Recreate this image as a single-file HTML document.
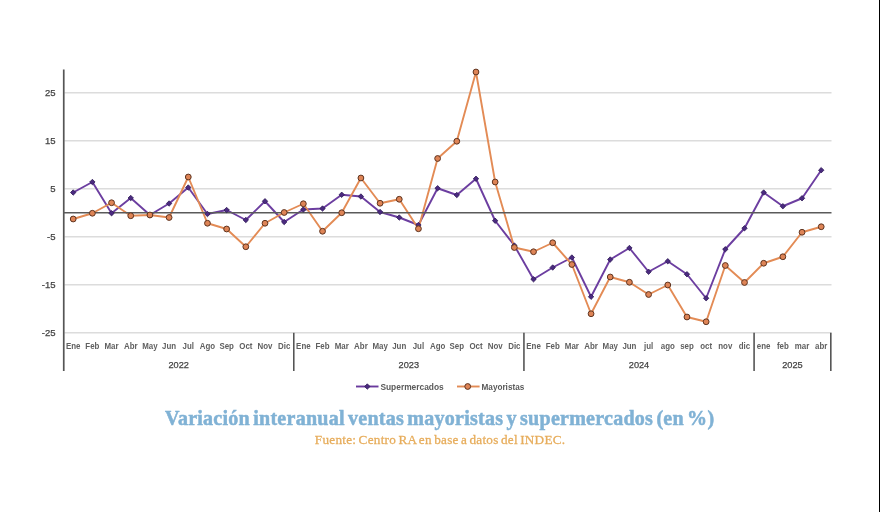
<!DOCTYPE html>
<html><head><meta charset="utf-8">
<style>
html,body{margin:0;padding:0;background:#fff;width:880px;height:512px;overflow:hidden}
#wrap{position:absolute;left:0;top:0;width:880px;height:512px;filter:blur(0.35px)}
svg{position:absolute;left:0;top:0;will-change:transform}
.yl{font-family:"Liberation Sans",sans-serif;font-size:9.5px;fill:#444;stroke:#444;stroke-width:0.25}
.ml{font-family:"Liberation Sans",sans-serif;font-size:9px;font-weight:bold;fill:#606060}
.yr{font-family:"Liberation Sans",sans-serif;font-size:9.2px;fill:#444;stroke:#444;stroke-width:0.25}
.lg{font-family:"Liberation Sans",sans-serif;font-size:9.2px;font-weight:bold;fill:#5a5a5a}
.title{position:absolute;left:165px;top:407px;font-family:"Liberation Serif",serif;font-weight:bold;font-size:20.05px;color:#80b2d5;-webkit-text-stroke:0.5px #80b2d5;letter-spacing:0.25px;word-spacing:-2px;white-space:nowrap}
.src{position:absolute;left:314.8px;top:432px;font-family:"Liberation Serif",serif;font-size:13.2px;color:#e7ad5c;-webkit-text-stroke:0.3px #e7ad5c;letter-spacing:0.28px;word-spacing:-1.3px;white-space:nowrap}
.edge{position:absolute;left:878.5px;top:0;width:1.5px;height:512px;background:#000}
</style></head><body><div id="wrap">
<svg width="880" height="512" viewBox="0 0 880 512">
<line x1="64.5" y1="92.75" x2="831.5" y2="92.75" stroke="#dcdcdc" stroke-width="1.3"/>
<text x="55.5" y="96.15" text-anchor="end" class="yl">25</text>
<line x1="64.5" y1="140.75" x2="831.5" y2="140.75" stroke="#dcdcdc" stroke-width="1.3"/>
<text x="55.5" y="144.15" text-anchor="end" class="yl">15</text>
<line x1="64.5" y1="188.75" x2="831.5" y2="188.75" stroke="#dcdcdc" stroke-width="1.3"/>
<text x="55.5" y="192.15" text-anchor="end" class="yl">5</text>
<line x1="64.5" y1="236.75" x2="831.5" y2="236.75" stroke="#dcdcdc" stroke-width="1.3"/>
<text x="55.5" y="240.15" text-anchor="end" class="yl">-5</text>
<line x1="64.5" y1="284.75" x2="831.5" y2="284.75" stroke="#dcdcdc" stroke-width="1.3"/>
<text x="55.5" y="288.15" text-anchor="end" class="yl">-15</text>
<line x1="64.5" y1="332.75" x2="831.5" y2="332.75" stroke="#dcdcdc" stroke-width="1.3"/>
<text x="55.5" y="336.15" text-anchor="end" class="yl">-25</text>
<line x1="63.75" y1="69.5" x2="63.75" y2="371" stroke="#555" stroke-width="1.7"/>
<line x1="293.77" y1="332.8" x2="293.77" y2="371" stroke="#555" stroke-width="1.6"/>
<line x1="523.93" y1="332.8" x2="523.93" y2="371" stroke="#555" stroke-width="1.6"/>
<line x1="754.09" y1="332.8" x2="754.09" y2="371" stroke="#555" stroke-width="1.6"/>
<line x1="830.81" y1="332.8" x2="830.81" y2="371" stroke="#555" stroke-width="1.6"/>
<text transform="translate(73.20,348.7) scale(0.88,1)" text-anchor="middle" class="ml">Ene</text>
<text transform="translate(92.38,348.7) scale(0.88,1)" text-anchor="middle" class="ml">Feb</text>
<text transform="translate(111.56,348.7) scale(0.88,1)" text-anchor="middle" class="ml">Mar</text>
<text transform="translate(130.74,348.7) scale(0.88,1)" text-anchor="middle" class="ml">Abr</text>
<text transform="translate(149.92,348.7) scale(0.88,1)" text-anchor="middle" class="ml">May</text>
<text transform="translate(169.10,348.7) scale(0.88,1)" text-anchor="middle" class="ml">Jun</text>
<text transform="translate(188.28,348.7) scale(0.88,1)" text-anchor="middle" class="ml">Jul</text>
<text transform="translate(207.46,348.7) scale(0.88,1)" text-anchor="middle" class="ml">Ago</text>
<text transform="translate(226.64,348.7) scale(0.88,1)" text-anchor="middle" class="ml">Sep</text>
<text transform="translate(245.82,348.7) scale(0.88,1)" text-anchor="middle" class="ml">Oct</text>
<text transform="translate(265.00,348.7) scale(0.88,1)" text-anchor="middle" class="ml">Nov</text>
<text transform="translate(284.18,348.7) scale(0.88,1)" text-anchor="middle" class="ml">Dic</text>
<text transform="translate(303.36,348.7) scale(0.88,1)" text-anchor="middle" class="ml">Ene</text>
<text transform="translate(322.54,348.7) scale(0.88,1)" text-anchor="middle" class="ml">Feb</text>
<text transform="translate(341.72,348.7) scale(0.88,1)" text-anchor="middle" class="ml">Mar</text>
<text transform="translate(360.90,348.7) scale(0.88,1)" text-anchor="middle" class="ml">Abr</text>
<text transform="translate(380.08,348.7) scale(0.88,1)" text-anchor="middle" class="ml">May</text>
<text transform="translate(399.26,348.7) scale(0.88,1)" text-anchor="middle" class="ml">Jun</text>
<text transform="translate(418.44,348.7) scale(0.88,1)" text-anchor="middle" class="ml">Jul</text>
<text transform="translate(437.62,348.7) scale(0.88,1)" text-anchor="middle" class="ml">Ago</text>
<text transform="translate(456.80,348.7) scale(0.88,1)" text-anchor="middle" class="ml">Sep</text>
<text transform="translate(475.98,348.7) scale(0.88,1)" text-anchor="middle" class="ml">Oct</text>
<text transform="translate(495.16,348.7) scale(0.88,1)" text-anchor="middle" class="ml">Nov</text>
<text transform="translate(514.34,348.7) scale(0.88,1)" text-anchor="middle" class="ml">Dic</text>
<text transform="translate(533.52,348.7) scale(0.88,1)" text-anchor="middle" class="ml">Ene</text>
<text transform="translate(552.70,348.7) scale(0.88,1)" text-anchor="middle" class="ml">Feb</text>
<text transform="translate(571.88,348.7) scale(0.88,1)" text-anchor="middle" class="ml">Mar</text>
<text transform="translate(591.06,348.7) scale(0.88,1)" text-anchor="middle" class="ml">Abr</text>
<text transform="translate(610.24,348.7) scale(0.88,1)" text-anchor="middle" class="ml">May</text>
<text transform="translate(629.42,348.7) scale(0.88,1)" text-anchor="middle" class="ml">Jun</text>
<text transform="translate(648.60,348.7) scale(0.88,1)" text-anchor="middle" class="ml">jul</text>
<text transform="translate(667.78,348.7) scale(0.88,1)" text-anchor="middle" class="ml">ago</text>
<text transform="translate(686.96,348.7) scale(0.88,1)" text-anchor="middle" class="ml">sep</text>
<text transform="translate(706.14,348.7) scale(0.88,1)" text-anchor="middle" class="ml">oct</text>
<text transform="translate(725.32,348.7) scale(0.88,1)" text-anchor="middle" class="ml">nov</text>
<text transform="translate(744.50,348.7) scale(0.88,1)" text-anchor="middle" class="ml">dic</text>
<text transform="translate(763.68,348.7) scale(0.88,1)" text-anchor="middle" class="ml">ene</text>
<text transform="translate(782.86,348.7) scale(0.88,1)" text-anchor="middle" class="ml">feb</text>
<text transform="translate(802.04,348.7) scale(0.88,1)" text-anchor="middle" class="ml">mar</text>
<text transform="translate(821.22,348.7) scale(0.88,1)" text-anchor="middle" class="ml">abr</text>
<text x="178.69" y="368.3" text-anchor="middle" class="yr">2022</text>
<text x="408.85" y="368.3" text-anchor="middle" class="yr">2023</text>
<text x="639.01" y="368.3" text-anchor="middle" class="yr">2024</text>
<text x="792.45" y="368.3" text-anchor="middle" class="yr">2025</text>
<polyline points="73.20,192.50 92.38,182.00 111.56,213.25 130.74,198.00 149.92,215.00 169.10,203.50 188.28,187.50 207.46,214.00 226.64,210.00 245.82,220.00 265.00,201.25 284.18,222.00 303.36,209.50 322.54,208.50 341.72,194.75 360.90,196.50 380.08,212.00 399.26,217.50 418.44,225.00 437.62,188.25 456.80,195.00 475.98,178.75 495.16,220.75 514.34,245.50 533.52,279.25 552.70,267.50 571.88,257.50 591.06,296.75 610.24,259.50 629.42,248.00 648.60,271.75 667.78,261.25 686.96,274.25 706.14,298.25 725.32,249.25 744.50,228.25 763.68,192.50 782.86,206.25 802.04,198.25 821.22,170.20" fill="none" stroke="#6c3ea0" stroke-width="1.9" stroke-linejoin="round"/>
<polyline points="73.20,219.00 92.38,213.25 111.56,202.75 130.74,215.75 149.92,215.00 169.10,217.50 188.28,177.00 207.46,223.25 226.64,229.00 245.82,246.75 265.00,223.25 284.18,212.50 303.36,203.75 322.54,231.25 341.72,212.75 360.90,178.00 380.08,203.25 399.26,199.25 418.44,228.75 437.62,158.50 456.80,141.25 475.98,72.00 495.16,182.00 514.34,247.50 533.52,251.75 552.70,242.75 571.88,264.50 591.06,313.75 610.24,277.00 629.42,282.25 648.60,294.50 667.78,285.00 686.96,317.00 706.14,321.75 725.32,265.50 744.50,282.50 763.68,263.25 782.86,256.75 802.04,232.25 821.22,226.75" fill="none" stroke="#e38b55" stroke-width="1.9" stroke-linejoin="round"/>
<line x1="63" y1="212.75" x2="831.5" y2="212.75" stroke="#5a5a5a" stroke-width="1.6"/>
<path d="M73.20 189.80 L75.90 192.50 L73.20 195.20 L70.50 192.50Z" fill="#4b2a80" stroke="#2e1a55" stroke-width="0.8"/>
<path d="M92.38 179.30 L95.08 182.00 L92.38 184.70 L89.68 182.00Z" fill="#4b2a80" stroke="#2e1a55" stroke-width="0.8"/>
<path d="M111.56 210.55 L114.26 213.25 L111.56 215.95 L108.86 213.25Z" fill="#4b2a80" stroke="#2e1a55" stroke-width="0.8"/>
<path d="M130.74 195.30 L133.44 198.00 L130.74 200.70 L128.04 198.00Z" fill="#4b2a80" stroke="#2e1a55" stroke-width="0.8"/>
<path d="M149.92 212.30 L152.62 215.00 L149.92 217.70 L147.22 215.00Z" fill="#4b2a80" stroke="#2e1a55" stroke-width="0.8"/>
<path d="M169.10 200.80 L171.80 203.50 L169.10 206.20 L166.40 203.50Z" fill="#4b2a80" stroke="#2e1a55" stroke-width="0.8"/>
<path d="M188.28 184.80 L190.98 187.50 L188.28 190.20 L185.58 187.50Z" fill="#4b2a80" stroke="#2e1a55" stroke-width="0.8"/>
<path d="M207.46 211.30 L210.16 214.00 L207.46 216.70 L204.76 214.00Z" fill="#4b2a80" stroke="#2e1a55" stroke-width="0.8"/>
<path d="M226.64 207.30 L229.34 210.00 L226.64 212.70 L223.94 210.00Z" fill="#4b2a80" stroke="#2e1a55" stroke-width="0.8"/>
<path d="M245.82 217.30 L248.52 220.00 L245.82 222.70 L243.12 220.00Z" fill="#4b2a80" stroke="#2e1a55" stroke-width="0.8"/>
<path d="M265.00 198.55 L267.70 201.25 L265.00 203.95 L262.30 201.25Z" fill="#4b2a80" stroke="#2e1a55" stroke-width="0.8"/>
<path d="M284.18 219.30 L286.88 222.00 L284.18 224.70 L281.48 222.00Z" fill="#4b2a80" stroke="#2e1a55" stroke-width="0.8"/>
<path d="M303.36 206.80 L306.06 209.50 L303.36 212.20 L300.66 209.50Z" fill="#4b2a80" stroke="#2e1a55" stroke-width="0.8"/>
<path d="M322.54 205.80 L325.24 208.50 L322.54 211.20 L319.84 208.50Z" fill="#4b2a80" stroke="#2e1a55" stroke-width="0.8"/>
<path d="M341.72 192.05 L344.42 194.75 L341.72 197.45 L339.02 194.75Z" fill="#4b2a80" stroke="#2e1a55" stroke-width="0.8"/>
<path d="M360.90 193.80 L363.60 196.50 L360.90 199.20 L358.20 196.50Z" fill="#4b2a80" stroke="#2e1a55" stroke-width="0.8"/>
<path d="M380.08 209.30 L382.78 212.00 L380.08 214.70 L377.38 212.00Z" fill="#4b2a80" stroke="#2e1a55" stroke-width="0.8"/>
<path d="M399.26 214.80 L401.96 217.50 L399.26 220.20 L396.56 217.50Z" fill="#4b2a80" stroke="#2e1a55" stroke-width="0.8"/>
<path d="M418.44 222.30 L421.14 225.00 L418.44 227.70 L415.74 225.00Z" fill="#4b2a80" stroke="#2e1a55" stroke-width="0.8"/>
<path d="M437.62 185.55 L440.32 188.25 L437.62 190.95 L434.92 188.25Z" fill="#4b2a80" stroke="#2e1a55" stroke-width="0.8"/>
<path d="M456.80 192.30 L459.50 195.00 L456.80 197.70 L454.10 195.00Z" fill="#4b2a80" stroke="#2e1a55" stroke-width="0.8"/>
<path d="M475.98 176.05 L478.68 178.75 L475.98 181.45 L473.28 178.75Z" fill="#4b2a80" stroke="#2e1a55" stroke-width="0.8"/>
<path d="M495.16 218.05 L497.86 220.75 L495.16 223.45 L492.46 220.75Z" fill="#4b2a80" stroke="#2e1a55" stroke-width="0.8"/>
<path d="M514.34 242.80 L517.04 245.50 L514.34 248.20 L511.64 245.50Z" fill="#4b2a80" stroke="#2e1a55" stroke-width="0.8"/>
<path d="M533.52 276.55 L536.22 279.25 L533.52 281.95 L530.82 279.25Z" fill="#4b2a80" stroke="#2e1a55" stroke-width="0.8"/>
<path d="M552.70 264.80 L555.40 267.50 L552.70 270.20 L550.00 267.50Z" fill="#4b2a80" stroke="#2e1a55" stroke-width="0.8"/>
<path d="M571.88 254.80 L574.58 257.50 L571.88 260.20 L569.18 257.50Z" fill="#4b2a80" stroke="#2e1a55" stroke-width="0.8"/>
<path d="M591.06 294.05 L593.76 296.75 L591.06 299.45 L588.36 296.75Z" fill="#4b2a80" stroke="#2e1a55" stroke-width="0.8"/>
<path d="M610.24 256.80 L612.94 259.50 L610.24 262.20 L607.54 259.50Z" fill="#4b2a80" stroke="#2e1a55" stroke-width="0.8"/>
<path d="M629.42 245.30 L632.12 248.00 L629.42 250.70 L626.72 248.00Z" fill="#4b2a80" stroke="#2e1a55" stroke-width="0.8"/>
<path d="M648.60 269.05 L651.30 271.75 L648.60 274.45 L645.90 271.75Z" fill="#4b2a80" stroke="#2e1a55" stroke-width="0.8"/>
<path d="M667.78 258.55 L670.48 261.25 L667.78 263.95 L665.08 261.25Z" fill="#4b2a80" stroke="#2e1a55" stroke-width="0.8"/>
<path d="M686.96 271.55 L689.66 274.25 L686.96 276.95 L684.26 274.25Z" fill="#4b2a80" stroke="#2e1a55" stroke-width="0.8"/>
<path d="M706.14 295.55 L708.84 298.25 L706.14 300.95 L703.44 298.25Z" fill="#4b2a80" stroke="#2e1a55" stroke-width="0.8"/>
<path d="M725.32 246.55 L728.02 249.25 L725.32 251.95 L722.62 249.25Z" fill="#4b2a80" stroke="#2e1a55" stroke-width="0.8"/>
<path d="M744.50 225.55 L747.20 228.25 L744.50 230.95 L741.80 228.25Z" fill="#4b2a80" stroke="#2e1a55" stroke-width="0.8"/>
<path d="M763.68 189.80 L766.38 192.50 L763.68 195.20 L760.98 192.50Z" fill="#4b2a80" stroke="#2e1a55" stroke-width="0.8"/>
<path d="M782.86 203.55 L785.56 206.25 L782.86 208.95 L780.16 206.25Z" fill="#4b2a80" stroke="#2e1a55" stroke-width="0.8"/>
<path d="M802.04 195.55 L804.74 198.25 L802.04 200.95 L799.34 198.25Z" fill="#4b2a80" stroke="#2e1a55" stroke-width="0.8"/>
<path d="M821.22 167.50 L823.92 170.20 L821.22 172.90 L818.52 170.20Z" fill="#4b2a80" stroke="#2e1a55" stroke-width="0.8"/>
<circle cx="73.20" cy="219.00" r="2.9" fill="#de8456" stroke="#5e3420" stroke-width="1"/>
<circle cx="92.38" cy="213.25" r="2.9" fill="#de8456" stroke="#5e3420" stroke-width="1"/>
<circle cx="111.56" cy="202.75" r="2.9" fill="#de8456" stroke="#5e3420" stroke-width="1"/>
<circle cx="130.74" cy="215.75" r="2.9" fill="#de8456" stroke="#5e3420" stroke-width="1"/>
<circle cx="149.92" cy="215.00" r="2.9" fill="#de8456" stroke="#5e3420" stroke-width="1"/>
<circle cx="169.10" cy="217.50" r="2.9" fill="#de8456" stroke="#5e3420" stroke-width="1"/>
<circle cx="188.28" cy="177.00" r="2.9" fill="#de8456" stroke="#5e3420" stroke-width="1"/>
<circle cx="207.46" cy="223.25" r="2.9" fill="#de8456" stroke="#5e3420" stroke-width="1"/>
<circle cx="226.64" cy="229.00" r="2.9" fill="#de8456" stroke="#5e3420" stroke-width="1"/>
<circle cx="245.82" cy="246.75" r="2.9" fill="#de8456" stroke="#5e3420" stroke-width="1"/>
<circle cx="265.00" cy="223.25" r="2.9" fill="#de8456" stroke="#5e3420" stroke-width="1"/>
<circle cx="284.18" cy="212.50" r="2.9" fill="#de8456" stroke="#5e3420" stroke-width="1"/>
<circle cx="303.36" cy="203.75" r="2.9" fill="#de8456" stroke="#5e3420" stroke-width="1"/>
<circle cx="322.54" cy="231.25" r="2.9" fill="#de8456" stroke="#5e3420" stroke-width="1"/>
<circle cx="341.72" cy="212.75" r="2.9" fill="#de8456" stroke="#5e3420" stroke-width="1"/>
<circle cx="360.90" cy="178.00" r="2.9" fill="#de8456" stroke="#5e3420" stroke-width="1"/>
<circle cx="380.08" cy="203.25" r="2.9" fill="#de8456" stroke="#5e3420" stroke-width="1"/>
<circle cx="399.26" cy="199.25" r="2.9" fill="#de8456" stroke="#5e3420" stroke-width="1"/>
<circle cx="418.44" cy="228.75" r="2.9" fill="#de8456" stroke="#5e3420" stroke-width="1"/>
<circle cx="437.62" cy="158.50" r="2.9" fill="#de8456" stroke="#5e3420" stroke-width="1"/>
<circle cx="456.80" cy="141.25" r="2.9" fill="#de8456" stroke="#5e3420" stroke-width="1"/>
<circle cx="475.98" cy="72.00" r="2.9" fill="#de8456" stroke="#5e3420" stroke-width="1"/>
<circle cx="495.16" cy="182.00" r="2.9" fill="#de8456" stroke="#5e3420" stroke-width="1"/>
<circle cx="514.34" cy="247.50" r="2.9" fill="#de8456" stroke="#5e3420" stroke-width="1"/>
<circle cx="533.52" cy="251.75" r="2.9" fill="#de8456" stroke="#5e3420" stroke-width="1"/>
<circle cx="552.70" cy="242.75" r="2.9" fill="#de8456" stroke="#5e3420" stroke-width="1"/>
<circle cx="571.88" cy="264.50" r="2.9" fill="#de8456" stroke="#5e3420" stroke-width="1"/>
<circle cx="591.06" cy="313.75" r="2.9" fill="#de8456" stroke="#5e3420" stroke-width="1"/>
<circle cx="610.24" cy="277.00" r="2.9" fill="#de8456" stroke="#5e3420" stroke-width="1"/>
<circle cx="629.42" cy="282.25" r="2.9" fill="#de8456" stroke="#5e3420" stroke-width="1"/>
<circle cx="648.60" cy="294.50" r="2.9" fill="#de8456" stroke="#5e3420" stroke-width="1"/>
<circle cx="667.78" cy="285.00" r="2.9" fill="#de8456" stroke="#5e3420" stroke-width="1"/>
<circle cx="686.96" cy="317.00" r="2.9" fill="#de8456" stroke="#5e3420" stroke-width="1"/>
<circle cx="706.14" cy="321.75" r="2.9" fill="#de8456" stroke="#5e3420" stroke-width="1"/>
<circle cx="725.32" cy="265.50" r="2.9" fill="#de8456" stroke="#5e3420" stroke-width="1"/>
<circle cx="744.50" cy="282.50" r="2.9" fill="#de8456" stroke="#5e3420" stroke-width="1"/>
<circle cx="763.68" cy="263.25" r="2.9" fill="#de8456" stroke="#5e3420" stroke-width="1"/>
<circle cx="782.86" cy="256.75" r="2.9" fill="#de8456" stroke="#5e3420" stroke-width="1"/>
<circle cx="802.04" cy="232.25" r="2.9" fill="#de8456" stroke="#5e3420" stroke-width="1"/>
<circle cx="821.22" cy="226.75" r="2.9" fill="#de8456" stroke="#5e3420" stroke-width="1"/>
<line x1="356" y1="386.5" x2="378.5" y2="386.5" stroke="#6a3a9e" stroke-width="1.9"/>
<path d="M367.3 383.8 L370 386.5 L367.3 389.2 L364.6 386.5Z" fill="#4b2a80" stroke="#2e1a55" stroke-width="0.8"/>
<text x="380.4" y="390" class="lg" textLength="63.4" lengthAdjust="spacingAndGlyphs">Supermercados</text>
<line x1="457" y1="386.5" x2="479.6" y2="386.5" stroke="#e38b55" stroke-width="1.9"/>
<circle cx="467.7" cy="386.5" r="2.9" fill="#de8456" stroke="#5e3420" stroke-width="1"/>
<text x="481.5" y="390" class="lg" textLength="42.8" lengthAdjust="spacingAndGlyphs">Mayoristas</text>
</svg>
<div class="title">Variación interanual ventas mayoristas y supermercados (en %)</div>
<div class="src">Fuente: Centro RA en base a datos del INDEC.</div>
<div class="edge"></div>
</div></body></html>
